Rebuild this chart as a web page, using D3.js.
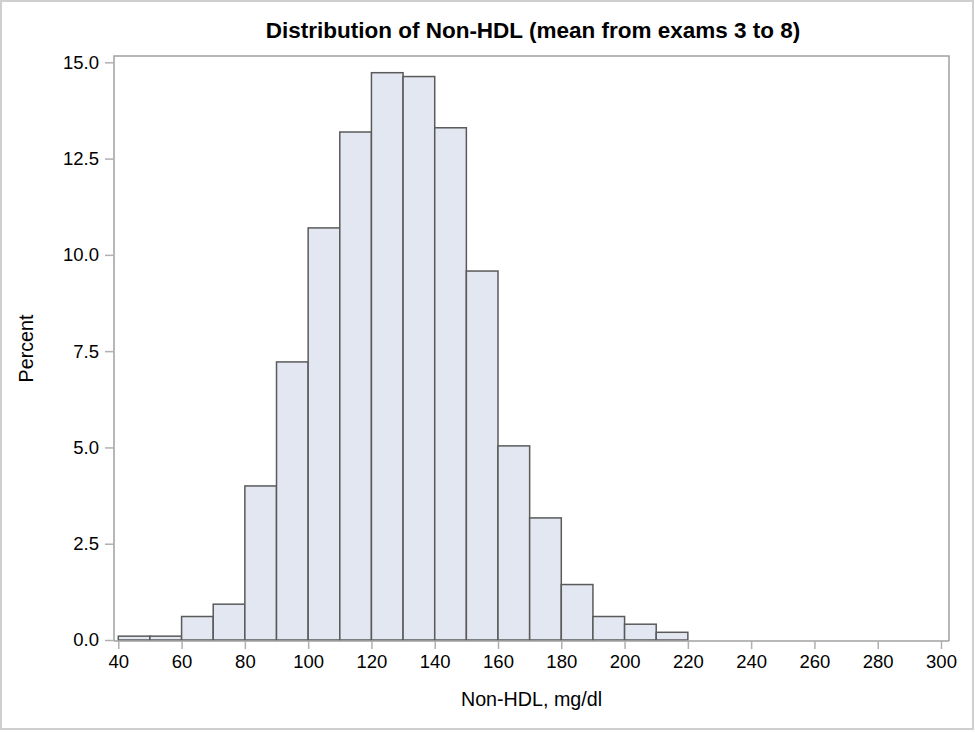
<!DOCTYPE html>
<html>
<head>
<meta charset="utf-8">
<script src="https://cdn.jsdelivr.net/npm/d3@7"></script>
<style>
  body { margin: 0; background: #fff; }
  svg text { font-family: "Liberation Sans", Arial, sans-serif; fill: #000; }
</style>
</head>
<body>
<svg id="chart" width="975" height="732"></svg>
<script>
// histogram bins (lower edge, mg/dl) and percent of subjects
const binStarts = [40, 50, 60, 70, 80, 90, 100, 110, 120, 130, 140, 150, 160, 170, 180, 190, 200, 210, 220, 230, 240, 250, 260, 270, 280, 290];
const percents = [0.1, 0.1, 0.61, 0.93, 4.0, 7.22, 10.7, 13.19, 14.73, 14.63, 13.3, 9.58, 5.04, 3.17, 1.44, 0.61, 0.41, 0.2, 0, 0, 0, 0, 0, 0, 0, 0];
const binWidth = 10;
const xTicks = [40, 60, 80, 100, 120, 140, 160, 180, 200, 220, 240, 260, 280, 300];
const yTicks = [0, 2.5, 5, 7.5, 10, 12.5, 15];

const W = 975, H = 732;
const svg = d3.select("#chart");

const x = d3.scaleLinear().domain([40, 300]).range([118.3, 941]);
const y = d3.scaleLinear().domain([0, 15]).range([640, 62.3]);

// outer border
svg.append("rect")
  .attr("x", 1).attr("y", 1).attr("width", W - 3).attr("height", H - 4)
  .attr("fill", "none").attr("stroke", "#cfcfcf").attr("stroke-width", 2);

// title
svg.append("text")
  .attr("x", 533).attr("y", 38)
  .attr("text-anchor", "middle")
  .style("font-size", "22.5px").style("font-weight", "bold")
  .text("Distribution of Non-HDL (mean from exams 3 to 8)");

const plotL = x(40) - 4.3, plotR = x(300) + 8, plotT = y(15) - 6.3, plotB = y(0) + 1;

// bars
svg.append("g")
  .selectAll("rect")
  .data(binStarts)
  .enter()
  .append("rect")
  .attr("x", d => x(d))
  .attr("width", x(binWidth) - x(0))
  .attr("y", (d, i) => y(percents[i]))
  .attr("height", (d, i) => y(0) - y(percents[i]))
  .attr("fill", "#e3e7f1")
  .attr("stroke", (d, i) => percents[i] > 0 ? "#5a5a5a" : "#b4b4b4")
  .attr("stroke-width", 1.5);

// plot frame
svg.append("path")
  .attr("d", `M${plotL},${plotB}V${plotT}H${plotR}V${plotB}`)
  .attr("fill", "none").attr("stroke", "#a0a0a0").attr("stroke-width", 1.5);

// x axis
const xAxis = svg.append("g")
  .attr("transform", `translate(0,${plotB})`)
  .call(d3.axisBottom(x).tickValues(xTicks).tickFormat(d3.format("d")).tickSize(8).tickPadding(6).tickSizeOuter(0));
xAxis.select(".domain").attr("d", `M${plotL},0H${plotR}`).attr("stroke", "#a0a0a0").attr("stroke-width", 1.5);
xAxis.selectAll(".tick line").attr("stroke", "#b0b0b0").attr("stroke-width", 1.5);
xAxis.selectAll(".tick text").style("font-size", "18.5px").attr("fill", "#000");

// y axis
const yAxis = svg.append("g")
  .attr("transform", `translate(${plotL},0)`)
  .call(d3.axisLeft(y).tickValues(yTicks).tickFormat(d3.format(".1f")).tickSize(9).tickPadding(6).tickSizeOuter(0));
yAxis.select(".domain").remove();
yAxis.selectAll(".tick line").attr("stroke", "#b0b0b0").attr("stroke-width", 1.5);
yAxis.selectAll(".tick text").style("font-size", "18.5px").attr("fill", "#000");

// axis labels
svg.append("text")
  .attr("x", (plotL + plotR) / 2).attr("y", 706)
  .attr("text-anchor", "middle")
  .style("font-size", "19.7px")
  .text("Non-HDL, mg/dl");

svg.append("text")
  .attr("transform", `translate(33,${(plotT + plotB) / 2}) rotate(-90)`)
  .attr("text-anchor", "middle")
  .style("font-size", "19.7px")
  .text("Percent");
</script>
</body>
</html>
